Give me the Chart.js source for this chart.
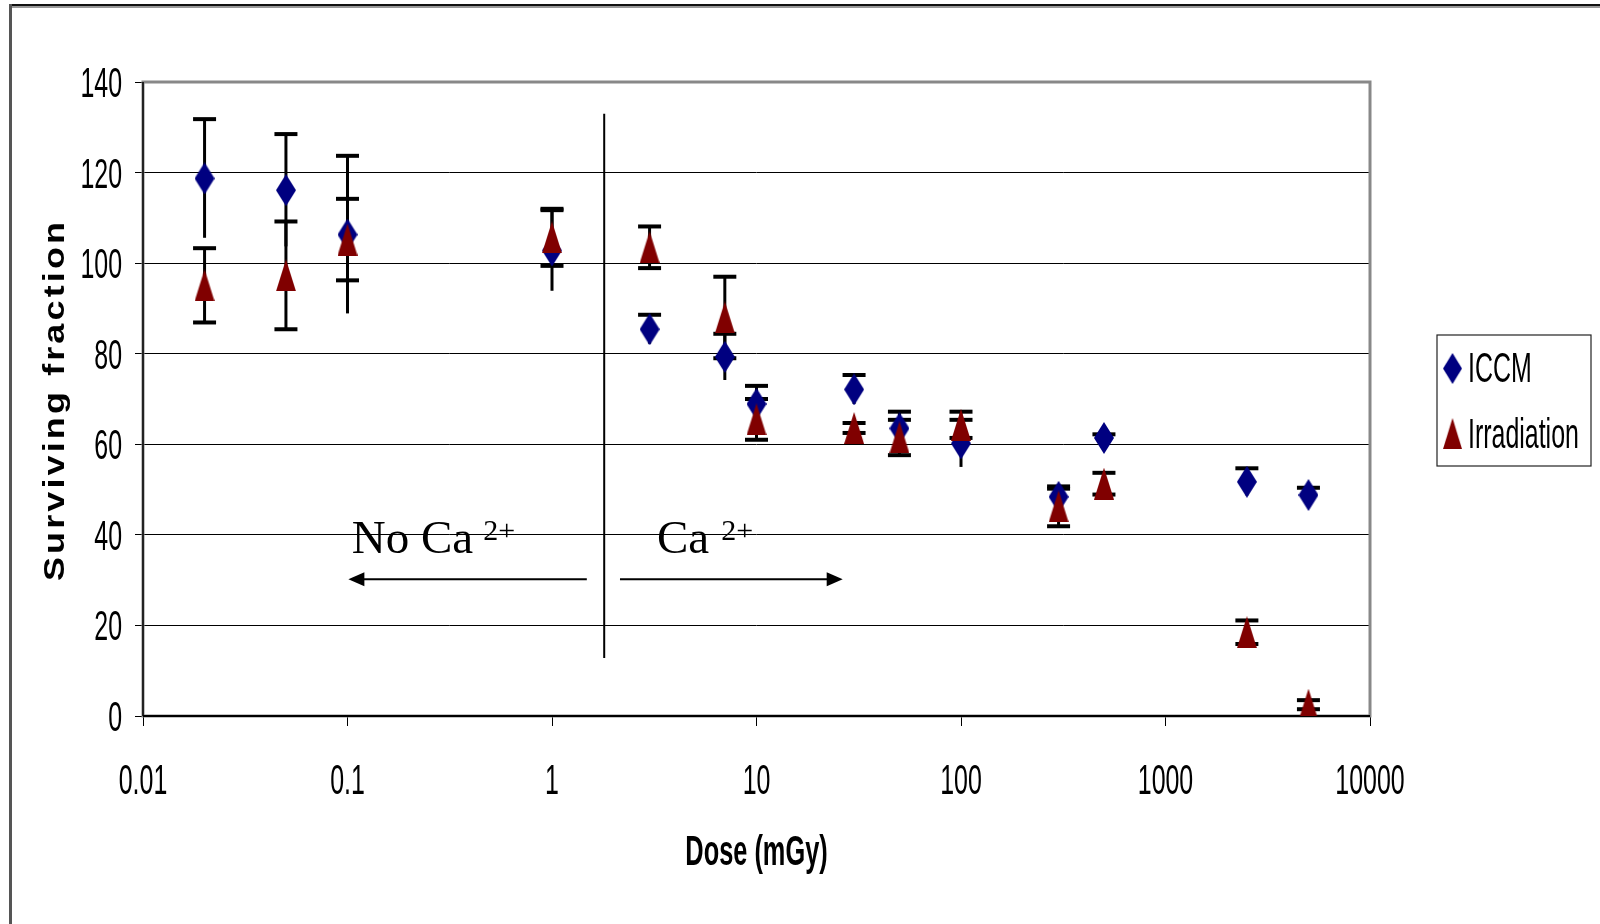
<!DOCTYPE html>
<html>
<head>
<meta charset="utf-8">
<script src="https://cdn.jsdelivr.net/npm/chart.js@4.4.1/dist/chart.umd.min.js"></script>
<style>
  body { margin: 0; background: #fff; }
  canvas { display: block; }
</style>
</head>
<body>
<canvas id="chart" width="1600" height="924"></canvas>
<script>
// data
const doses = [0.02, 0.05, 0.1, 1, 3, 7, 10, 30, 50, 100, 300, 500, 2500, 5000];
const iccm = [118.7, 116.1, 106.3, 102.8, 85.4, 79.3, 68.9, 72.1, 63.5, 60.2, 48.4, 61.4, 51.7, 48.8];
const iccmErr = [13.1, 12.4, 17.4, 8.9, 3.2, 5.1, 4.0, 3.2, 3.7, 5.2, 1.8, 0.8, 3.0, 1.6];
const irradiation = [95.1, 97.3, 105.2, 105.7, 103.5, 88.0, 65.5, 63.6, 61.5, 64.3, 46.3, 51.3, 18.5, 2.5];
const irradiationErr = [8.2, 11.9, 9.0, 6.3, 4.6, 9.0, 4.5, 1.1, 3.9, 2.9, 4.4, 2.4, 2.6, 1.0];
const xTicks = [0.01, 0.1, 1, 10, 100, 1000, 10000];
const xTickLabels = ["0.01", "0.1", "1", "10", "100", "1000", "10000"];
const yTicks = [0, 20, 40, 60, 80, 100, 120, 140];

const NAVY = '#000080';
const DARKRED = '#800000';
const NARROW = 0.58; // the chart's fonts are squeezed sideways

// tall diamond / triangle markers
function makeMarker(kind, color) {
  const c = document.createElement('canvas');
  c.width = 20;
  c.height = 32;
  const g = c.getContext('2d');
  g.fillStyle = color;
  g.beginPath();
  if (kind === 'diamond') {
    g.moveTo(10, 0); g.lineTo(20, 16); g.lineTo(10, 32); g.lineTo(0, 16);
  } else {
    g.moveTo(10, 0); g.lineTo(20, 32); g.lineTo(0, 32);
  }
  g.closePath();
  g.fill();
  return c;
}
const diamond = makeMarker('diamond', NAVY);
const triangle = makeMarker('triangle', DARKRED);

function squeezedText(ctx, str, x, y, font, align, sx) {
  ctx.save();
  ctx.font = font;
  ctx.textAlign = align;
  ctx.textBaseline = 'alphabetic';
  ctx.fillStyle = '#000';
  ctx.translate(x, y);
  ctx.scale(sx, 1);
  ctx.fillText(str, 0, 0);
  ctx.restore();
}

function line(ctx, x1, y1, x2, y2) {
  ctx.beginPath();
  ctx.moveTo(x1, y1);
  ctx.lineTo(x2, y2);
  ctx.stroke();
}

function arrow(ctx, x1, x2, y) {
  const dir = Math.sign(x2 - x1);
  line(ctx, x1, y, x2 - dir * 14, y);
  ctx.beginPath();
  ctx.moveTo(x2, y);
  ctx.lineTo(x2 - dir * 16, y - 7);
  ctx.lineTo(x2 - dir * 16, y + 7);
  ctx.closePath();
  ctx.fill();
}

// page frame, plot border, error bars, texts
const backdrop = {
  id: 'backdrop',
  beforeDraw(chart) {
    const ctx = chart.ctx;
    ctx.save();
    ctx.fillStyle = '#fff';
    ctx.fillRect(0, 0, chart.width, chart.height);
    ctx.fillStyle = '#111';
    ctx.fillRect(9, 4, chart.width, 2);
    ctx.fillStyle = '#999';
    ctx.fillRect(9, 6, chart.width, 2);
    ctx.fillStyle = '#555';
    ctx.fillRect(9, 4, 3, chart.height);
    ctx.restore();
  },
  beforeDatasetsDraw(chart) {
    const {ctx, chartArea: a, scales: {x, y}} = chart;
    ctx.save();
    ctx.strokeStyle = '#888';
    ctx.lineWidth = 3;
    ctx.strokeRect(a.left, a.top, a.right - a.left, a.bottom - a.top);
    ctx.strokeStyle = '#000';
    ctx.lineWidth = 1.5;
    line(ctx, a.left, a.top, a.left, a.bottom);
    ctx.lineWidth = 2;
    line(ctx, a.left, a.bottom, a.right, a.bottom);

    // ICCM bars only show a cap on the plus side
    const series = [[iccm, iccmErr, false], [irradiation, irradiationErr, true]];
    series.forEach(([vals, errs, bothCaps]) => {
      doses.forEach((d, i) => {
        const px = x.getPixelForValue(d);
        const top = y.getPixelForValue(vals[i] + errs[i]);
        const bot = y.getPixelForValue(Math.max(0, vals[i] - errs[i]));
        ctx.lineWidth = 3;
        line(ctx, px, top, px, bot);
        ctx.lineWidth = 4;
        line(ctx, px - 11.5, top, px + 11.5, top);
        if (bothCaps) line(ctx, px - 11.5, bot, px + 11.5, bot);
      });
    });
    ctx.restore();
  },
  afterDraw(chart) {
    const {ctx, chartArea: a, scales: {x, y}} = chart;
    ctx.save();
    ctx.strokeStyle = '#000';
    ctx.fillStyle = '#000';

    // tick labels
    yTicks.forEach(v => {
      squeezedText(ctx, String(v), 122, y.getPixelForValue(v) + 15, '43px "Liberation Sans", Arial', 'right', NARROW);
    });
    xTicks.forEach((v, i) => {
      squeezedText(ctx, xTickLabels[i], x.getPixelForValue(v), 794, '43px "Liberation Sans", Arial', 'center', NARROW);
    });

    // axis titles
    squeezedText(ctx, 'Dose (mGy)', (a.left + a.right) / 2, 865, 'bold 43px "Liberation Sans", Arial', 'center', 0.59);
    ctx.save();
    ctx.translate(64, 400);
    ctx.rotate(-Math.PI / 2);
    ctx.scale(1.2, 1);
    ctx.font = 'bold 30px "Liberation Sans", Arial';
    ctx.letterSpacing = '2.6px';
    ctx.textAlign = 'center';
    ctx.fillText('Surviving fraction', 0, 0);
    ctx.restore();

    // Ca2+ divider and arrows
    ctx.lineWidth = 2;
    line(ctx, x.getPixelForValue(1.8), y.getPixelForValue(133), x.getPixelForValue(1.8), y.getPixelForValue(12.8));
    const ay = y.getPixelForValue(30.2);
    arrow(ctx, x.getPixelForValue(1.48), x.getPixelForValue(0.101), ay);
    arrow(ctx, x.getPixelForValue(2.15), x.getPixelForValue(26.4), ay);

    ctx.font = '47px "Liberation Serif", "Times New Roman", serif';
    ctx.textAlign = 'left';
    const by = y.getPixelForValue(36);
    const noX = x.getPixelForValue(0.105);
    ctx.fillText('No Ca', noX, by);
    const noW = ctx.measureText('No Ca').width;
    const caX = x.getPixelForValue(3.26);
    ctx.fillText('Ca', caX, by);
    const caW = ctx.measureText('Ca').width;
    ctx.font = '30px "Liberation Serif", "Times New Roman", serif';
    ctx.fillText('2+', noX + noW + 10, by - 13);
    ctx.fillText('2+', caX + caW + 12, by - 13);

    // legend
    ctx.lineWidth = 1.2;
    ctx.strokeStyle = '#222';
    ctx.strokeRect(1437, 335, 154, 131);
    ctx.drawImage(diamond, 1443, 353, 19, 31);
    ctx.drawImage(triangle, 1443, 418, 19, 31);
    squeezedText(ctx, 'ICCM', 1468, 382, '43px "Liberation Sans", Arial', 'left', NARROW);
    squeezedText(ctx, 'Irradiation', 1468, 448, '43px "Liberation Sans", Arial', 'left', NARROW);
    ctx.restore();
  }
};

document.addEventListener('DOMContentLoaded', () => {
  const ctx = document.getElementById('chart').getContext('2d');
  new Chart(ctx, {
    type: 'scatter',
    data: {
      datasets: [{
        label: 'ICCM',
        data: doses.map((d, i) => ({x: d, y: iccm[i]})),
        pointStyle: diamond,
        pointRadius: 10,
        backgroundColor: NAVY,
        borderColor: NAVY,
        order: 2
      }, {
        label: 'Irradiation',
        data: doses.map((d, i) => ({x: d, y: irradiation[i]})),
        pointStyle: triangle,
        pointRadius: 10,
        backgroundColor: DARKRED,
        borderColor: DARKRED,
        order: 1
      }]
    },
    options: {
      responsive: false,
      animation: false,
      devicePixelRatio: 1,
      layout: {
        padding: {top: 82, right: 230, left: 0, bottom: 0}
      },
      scales: {
        x: {
          type: 'logarithmic',
          min: 0.01,
          max: 10000,
          afterBuildTicks: scale => {
            scale.ticks = xTicks.map(v => ({value: v}));
          },
          afterFit: scale => {
            scale.height = 208;
          },
          ticks: {display: false},
          border: {display: false},
          grid: {
            drawOnChartArea: false,
            drawTicks: true,
            tickLength: 10,
            tickColor: '#000',
            tickWidth: 1
          }
        },
        y: {
          min: 0,
          max: 140,
          afterBuildTicks: scale => {
            scale.ticks = yTicks.map(v => ({value: v}));
          },
          afterFit: scale => {
            scale.width = 143;
          },
          ticks: {display: false},
          border: {display: false},
          grid: {
            color: '#000',
            lineWidth: 1,
            drawTicks: true,
            tickLength: 8,
            tickColor: '#000',
            tickWidth: 1
          }
        }
      },
      plugins: {
        legend: {display: false},
        tooltip: {enabled: false}
      }
    },
    plugins: [backdrop]
  });
});
</script>
</body>
</html>
